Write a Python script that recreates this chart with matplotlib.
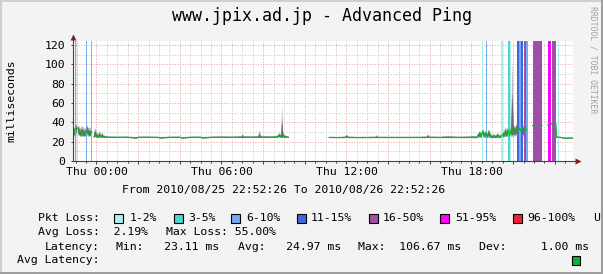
import numpy as np
import pandas as pd
import matplotlib
matplotlib.use('Agg')
import matplotlib.pyplot as plt
import matplotlib.dates as mdates
from matplotlib.patches import Rectangle
from matplotlib.ticker import MultipleLocator, FuncFormatter

plt.rcParams['font.family'] = ['DejaVu Sans Mono']

W, H = 603, 274

start = pd.Timestamp('2010-08-25 22:52:26')
end = pd.Timestamp('2010-08-26 22:52:26')

# latency samples (clock time, ms); None marks a gap with no data
lat_time = [
    '22:54', '22:58', '23:02', '23:06', '23:10', '23:14', '23:18', '23:22', '23:26', '23:30', '23:34', '23:38', '23:42', '23:46',
    '23:50',
    '23:53', '23:57', '00:01', '00:05', '00:09', '00:13', '00:17', '00:21', '00:26', '00:32',
    '00:40', '01:00', '01:30', '01:55', '02:00', '02:30', '03:00', '03:04', '03:30', '04:00',
    '04:08', '04:30', '05:00', '05:06', '05:30', '06:00', '06:30', '06:58', '07:01', '07:04',
    '07:30', '07:46', '07:50', '07:54', '08:15', '08:40', '08:47', '08:51', '08:55', '08:58',
    '09:02', '09:08', '09:13',
    '10:00',
    '11:10', '11:40', '11:57', '12:01', '12:05', '12:30', '13:00', '13:24', '13:27', '13:30',
    '14:00', '14:30', '15:00', '15:30', '15:51', '15:55', '15:59', '16:30', '16:54', '17:20',
    '17:50', '18:05', '18:15',
    '18:24', '18:28', '18:33', '18:37', '18:42', '18:46', '18:50', '18:55', '18:59', '19:05',
    '19:10', '19:16', '19:21', '19:26', '19:30', '19:34', '19:38', '19:42', '19:46', '19:50',
    '19:54', '19:58', '20:02', '20:06', '20:10', '20:14', '20:18', '20:22', '20:26', '20:30',
    '20:34', '20:38',
    '20:47',
    '20:56', '21:05', '21:14', '21:23',
    '21:31',
    '21:40', '21:44', '21:48', '21:53', '21:58', '22:03', '22:05', '22:15', '22:25', '22:35', '22:45', '22:52',
]
lat_median = [
    26, 33, 34.5, 34, 31, 27.5, 30, 29, 27, 30, 33, 29, 27, 30,
    None,
    25, 27.5, 25, 24.6, 26.5, 24.8, 25.5, 24.6, 24.7, 24.5,
    24.5, 24.4, 24.5, 23.6, 24.4, 24.5, 24.3, 23.7, 24.4, 24.5,
    23.6, 24.4, 24.5, 23.7, 24.4, 24.5, 24.4, 24.4, 24.5, 24.4,
    24.5, 24.4, 24.6, 24.4, 24.5, 24.5, 26.5, 25, 24.6, 25.8,
    24.6, 24.5, 24.5,
    None,
    24.3, 24.2, 24.3, 24.5, 24.3, 24.2, 24.3, 24.3, 24.4, 24.3,
    24.3, 24.2, 24.3, 24.3, 24.3, 24.5, 24.3, 24.3, 24.4, 24.3,
    24.3, 24.4, 24.3,
    29, 25, 31, 26, 29, 25, 30, 25.5, 24.5, 25,
    24.5, 26, 24.5, 25, 28, 26, 31, 27, 32, 26,
    33, 29, 33, 30, 34, 30, 34, 31, 35, 31,
    34, 32,
    None,
    36.7, 36.5, 36.3, 36.8,
    None,
    37, 39, 38.3, 38.8, 39.5, 38.8, 24.6, 24.5, 23.7, 23.6, 23.7, 23.6,
]
lat_low = [
    24, 26, 27, 27, 26, 25, 25, 25, 25, 25, 26, 25, 25, 26,
    None,
    24, 24.5, 24, 24, 24, 24, 24, 24, 24, 24,
    24, 23.9, 24, 23.3, 23.9, 24, 23.9, 23.4, 23.9, 24,
    23.3, 23.9, 24, 23.4, 23.9, 24, 23.9, 23.9, 24, 23.9,
    24, 23.9, 24, 23.9, 24, 24, 24.2, 24, 24.1, 24.2,
    24, 24, 24,
    None,
    23.8, 23.8, 23.8, 23.9, 23.8, 23.8, 23.8, 23.8, 23.9, 23.8,
    23.8, 23.8, 23.8, 23.8, 23.8, 23.9, 23.8, 23.8, 23.8, 23.8,
    23.8, 23.8, 23.8,
    24, 24, 25, 24, 23.5, 23.5, 24, 23.5, 23.5, 23.5,
    23.5, 24, 23.5, 23.5, 24, 24, 25, 24.5, 25, 24.5,
    25, 25, 25, 25.5, 26, 25.5, 26, 25.5, 26, 25.5,
    26, 25.5,
    None,
    36, 36, 35.8, 36.2,
    None,
    36.5, 38, 37.5, 38, 38.5, 38, 24, 24, 23.3, 23.3, 23.3, 23.3,
]
lat_high = [
    30, 36, 37.5, 37, 36, 34, 36, 35, 33, 35, 37, 34, 34, 36,
    None,
    31, 34, 30, 28, 31, 28, 29, 27, 26, 25.5,
    25.3, 25.2, 25.3, 24.8, 25.3, 25.3, 25.2, 24.8, 25.3, 25.2,
    24.7, 25.3, 25.3, 24.9, 25.3, 25.5, 25.4, 25.8, 29, 25.8,
    25.5, 26, 32, 26, 25.6, 26, 29, 27, 56, 30,
    27, 26, 25.5,
    None,
    25, 25, 25.5, 28, 25.5, 25, 25.1, 25.3, 27, 25.3,
    25.1, 25, 25.2, 25.2, 25.5, 28, 25.5, 25.2, 26, 25.3,
    25.5, 26, 25.5,
    31, 29, 34, 30, 31, 28, 33, 29, 27, 28,
    27, 29, 27, 28, 32, 30, 35, 32, 36, 33,
    37, 106.67, 37, 36, 38, 36, 38, 37, 38, 37,
    37, 36,
    None,
    37.2, 37, 36.8, 37.3,
    None,
    38, 41, 39, 39.5, 40, 39.5, 25.3, 25.2, 24.3, 24.3, 24.3, 24.3,
]

# packet loss periods: start, end, loss class index
loss_start = ['22:58', '23:03', '23:30', '23:43', '18:30', '18:42', '19:26', '19:46', '19:51',
              '20:12', '20:18', '20:24', '20:32', '20:38', '20:56', '21:40', '21:51', '22:08']
loss_end = ['23:02', '23:07', '23:34', '23:47', '18:34', '18:46', '19:30', '19:50', '19:55',
            '20:16', '20:22', '20:28', '20:36', '20:42', '21:23', '21:49', '22:04', '22:12']
loss_class = [2, 0, 2, 1, 0, 2, 0, 1, 0, 3, 2, 3, 4, 2, 4, 5, 4, 0]

loss_labels = ['1-2%', '3-5%', '6-10%', '11-15%', '16-50%', '51-95%', '96-100%']
loss_colors = ['#aef0ee', '#4fd4cc', '#74aaf0', '#4466dd', '#9e4fa6', '#ff00ff', '#f51f33']

avg_loss, max_loss = '2.19%', '55.00%'
lat_min, lat_avg, lat_max, lat_dev = 23.11, 24.97, 106.67, 1.00


def to_times(hhmm):
    # clock strings in order; a decrease means the next day
    out, day, prev = [], pd.Timestamp('2010-08-25'), None
    for s in hhmm:
        h, m = map(int, s.split(':'))
        mins = h * 60 + m
        if prev is not None and mins < prev:
            day += pd.Timedelta(days=1)
        prev = mins
        out.append(day + pd.Timedelta(minutes=mins))
    return pd.DatetimeIndex(out)


def fx(x):
    return x / W


def fy(y):
    return 1 - y / H


t = to_times(lat_time)
med = np.array(lat_median, dtype=float)
lo = np.array(lat_low, dtype=float)
hi = np.array(lat_high, dtype=float)

fig = plt.figure(figsize=(W / 100, H / 100), dpi=100, facecolor='#f3f3f3')
ax = fig.add_axes([fx(73), fy(161), 500 / W, 120 / H])
ax.set_facecolor('white')
ax.set_xlim(start, end)
ax.set_ylim(0, 124.1)
ax.set_axisbelow(True)

# grid
ax.xaxis.set_major_locator(mdates.HourLocator(byhour=range(0, 24, 2)))
ax.xaxis.set_minor_locator(mdates.MinuteLocator(byminute=[0, 30]))
ax.xaxis.set_major_formatter(FuncFormatter(
    lambda v, pos: mdates.num2date(v).strftime('%a %H:%M') if mdates.num2date(v).hour % 6 == 0 else ''))
ax.yaxis.set_major_locator(MultipleLocator(20))
ax.yaxis.set_minor_locator(MultipleLocator(10))
ax.yaxis.set_major_formatter(FuncFormatter(lambda v, pos: '%d' % v))
ax.grid(which='minor', color='#c8c8c8', ls=(0, (1, 1.6)), lw=0.72)
ax.grid(which='major', color='#e6a0a0', ls=(0, (1, 1.6)), lw=0.72)
ax.tick_params(which='both', labelsize=8.25, color='#444444', width=0.72)
ax.tick_params(axis='x', which='major', length=2.2, pad=2.2)
ax.tick_params(axis='x', which='minor', length=1.2)
ax.tick_params(axis='y', which='major', length=1.5, pad=4.3)
ax.tick_params(axis='y', which='minor', length=0)
for s in ax.spines.values():
    s.set_visible(False)

# smoke
ax.fill_between(t, lo, hi, color='#bcbcbc', lw=0, zorder=1.5)
ax.fill_between(t, med - (med - lo) * 0.7, med + (hi - med) * 0.55, color='#6c6c6c', lw=0, zorder=1.6)

# packet loss bars
for s, e, c in zip(to_times(loss_start), to_times(loss_end), loss_class):
    ax.axvspan(s, e, color=loss_colors[c], lw=0, zorder=2)

# median
ax.plot(t, med, color='#12b030', lw=0.9, zorder=3)

# axes with arrows
ax.plot([0, 1.012], [0, 0], transform=ax.transAxes, color='#444444', lw=0.8, clip_on=False, zorder=4)
ax.plot([0, 0], [0, 1.04], transform=ax.transAxes, color='#444444', lw=0.8, clip_on=False, zorder=4)
ax.plot([1.009], [0], marker='>', ms=4.5, color='#7f1f1f', mec='none', transform=ax.transAxes, clip_on=False, zorder=5)
ax.plot([0], [1.037], marker='^', ms=4.5, color='#7f1f1f', mec='none', transform=ax.transAxes, clip_on=False, zorder=5)

# texts
fig.text(fx(322.5), fy(16), 'www.jpix.ad.jp - Advanced Ping', ha='center', va='center', fontsize=12)
fig.text(fx(11), fy(101), 'milliseconds', rotation=90, ha='center', va='center', fontsize=8.25)
fig.text(fx(593), fy(60), 'RRDTOOL / TOBI OETIKER', rotation=270, ha='center', va='center',
         fontsize=5.9, color='#a0a0a0')
fig.text(fx(121.7), fy(190), 'From %s To %s' % (start.strftime('%Y/%m/%d %H:%M:%S'), end.strftime('%Y/%m/%d %H:%M:%S')),
         ha='left', va='center', fontsize=8.25)

fs = 8.25
fig.text(fx(37.7), fy(218), 'Pkt Loss:', ha='left', va='center', fontsize=fs)
box_x = [113.5, 173.5, 231.5, 296.5, 368.5, 440.5, 512.5]
text_x = [130, 188.3, 246.7, 311, 382.7, 455, 527.3]
for bx, tx, lab, col in zip(box_x, text_x, loss_labels, loss_colors):
    fig.add_artist(Rectangle((fx(bx), fy(222.5)), 9 / W, 9 / H, transform=fig.transFigure,
                             facecolor=col, edgecolor='black', lw=0.8))
    fig.text(fx(tx), fy(218), lab, ha='left', va='center', fontsize=fs)
fig.text(fx(592.7), fy(218), 'Unknown', ha='left', va='center', fontsize=fs)

fig.text(fx(37.7), fy(231.7), 'Avg Loss:  %s' % avg_loss, ha='left', va='center', fontsize=fs)
fig.text(fx(165.7), fy(231.7), 'Max Loss: %s' % max_loss, ha='left', va='center', fontsize=fs)

fig.text(fx(44.3), fy(246.7), 'Latency:', ha='left', va='center', fontsize=fs)
fig.text(fx(116.5), fy(246.7), 'Min: %7.2f ms' % lat_min, ha='left', va='center', fontsize=fs)
fig.text(fx(238.3), fy(246.7), 'Avg: %7.2f ms' % lat_avg, ha='left', va='center', fontsize=fs)
fig.text(fx(358.3), fy(246.7), 'Max: %7.2f ms' % lat_max, ha='left', va='center', fontsize=fs)
fig.text(fx(479.3), fy(246.7), 'Dev: %8.2f ms' % lat_dev, ha='left', va='center', fontsize=fs)

fig.text(fx(16.7), fy(260), 'Avg Latency:', ha='left', va='center', fontsize=fs)
fig.add_artist(Rectangle((fx(572), fy(264.5)), 8 / W, 8.5 / H, transform=fig.transFigure,
                         facecolor='#12b030', edgecolor='black', lw=0.8))

# 3d frame
for (x0, y0, w, h, c) in [(0, 0, 603, 2, '#cfcfcf'), (0, 0, 2, 274, '#cfcfcf'),
                          (0, 272, 603, 2, '#9e9e9e'), (601, 0, 2, 274, '#9e9e9e')]:
    fig.add_artist(Rectangle((fx(x0), fy(y0 + h)), w / W, h / H, transform=fig.transFigure,
                             facecolor=c, edgecolor='none', zorder=10))

fig.savefig('out.png', dpi=100, facecolor=fig.get_facecolor())
